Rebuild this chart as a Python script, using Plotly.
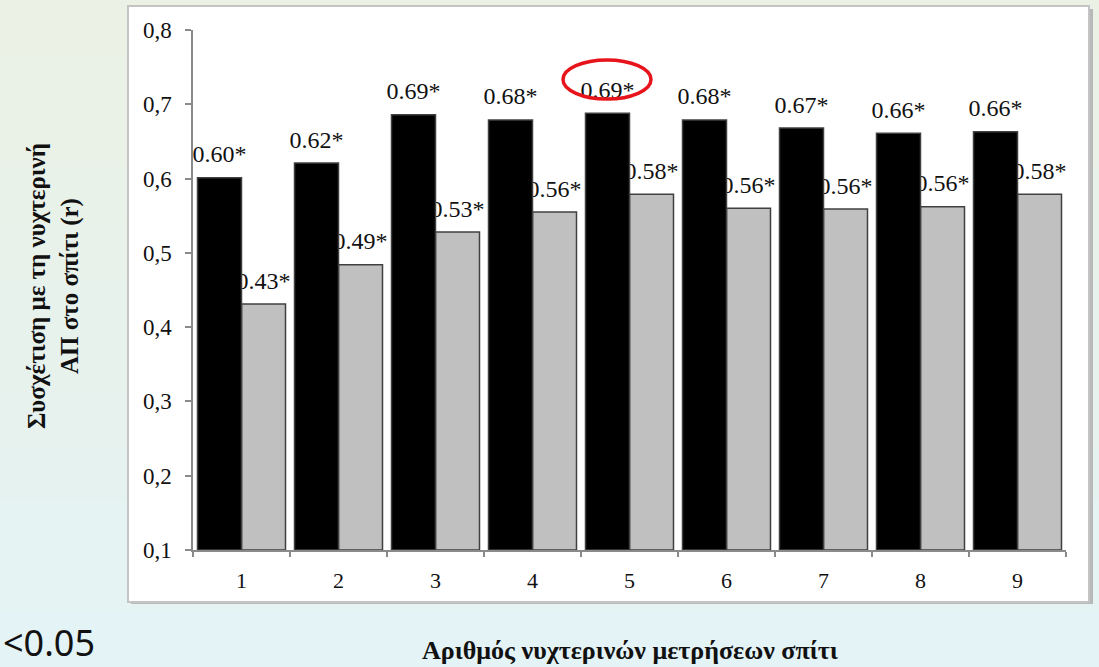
import plotly.graph_objects as go

categories = ["1", "2", "3", "4", "5", "6", "7", "8", "9"]
black_values = [0.601, 0.621, 0.686, 0.679, 0.688, 0.679, 0.668, 0.661, 0.663]
gray_values = [0.431, 0.484, 0.528, 0.555, 0.579, 0.560, 0.559, 0.562, 0.579]
black_labels = ["0.60*", "0.62*", "0.69*", "0.68*", "0.69*", "0.68*", "0.67*", "0.66*", "0.66*"]
gray_labels = ["0.43*", "0.49*", "0.53*", "0.56*", "0.58*", "0.56*", "0.56*", "0.56*", "0.58*"]
y_ticks = [0.1, 0.2, 0.3, 0.4, 0.5, 0.6, 0.7, 0.8]

SERIF = "Liberation Serif, Times New Roman, serif"
W, H = 1099, 667
L, R, T, B = 193, 33, 30, 117
pw, ph = W - L - R, H - T - B


def px(x):
    return (x - L) / pw


def py(y):
    return (H - B - y) / ph


bw = 0.4536
label_pad = 0.01  # extra gap between bar top and its value label (axis units)
label_font = dict(family=SERIF, size=24, color="#111")


def bars(values, color, offset):
    return go.Bar(
        x=categories, y=[v - 0.1 for v in values], base=0.1,
        width=bw, offset=offset,
        marker=dict(color=color, line=dict(color="#404040", width=1.5)),
        showlegend=False, hoverinfo="skip",
    )


def label_carrier(values, labels, offset):
    # invisible thin bar on top of each bar, used only to carry the value label
    return go.Bar(
        x=categories, y=[label_pad] * len(values), base=values,
        width=bw, offset=offset,
        marker=dict(color="rgba(0,0,0,0)", line=dict(width=0)),
        text=labels, textposition="outside", cliponaxis=False,
        textfont=label_font, constraintext="none",
        showlegend=False, hoverinfo="skip",
    )


fig = go.Figure()
# gray series first so the black bars (drawn later) overlap the gray labels
fig.add_trace(bars(gray_values, "#c0c0c0", 0))
fig.add_trace(label_carrier(gray_values, gray_labels, 0))
fig.add_trace(bars(black_values, "#000000", -bw))
fig.add_trace(label_carrier(black_values, black_labels, -bw))

shapes = []
# background gradient bands (green-tinted top to blue-tinted bottom)
n = 12
top_c = (235, 241, 228)
bot_c = (228, 243, 245)
for i in range(n):
    t = i / (n - 1)
    c = tuple(round(top_c[k] + (bot_c[k] - top_c[k]) * t) for k in range(3))
    y0p = i * H / n
    y1p = (i + 1) * H / n + 1
    shapes.append(dict(type="rect", xref="paper", yref="paper", layer="below",
                       x0=px(0), x1=px(W), y0=py(y1p), y1=py(y0p),
                       line=dict(width=0), fillcolor="rgb(%d,%d,%d)" % c))
# panel shadow
shapes.append(dict(type="rect", xref="paper", yref="paper", layer="below",
                   x0=px(131), x1=px(1093), y0=py(604), y1=py(9),
                   line=dict(width=0), fillcolor="#b8b8b8"))
# white panel
shapes.append(dict(type="rect", xref="paper", yref="paper", layer="below",
                   x0=px(128), x1=px(1089), y0=py(602), y1=py(6),
                   line=dict(color="#c4c4c4", width=2), fillcolor="#ffffff"))
# red highlight ellipse around the label of category 5
shapes.append(dict(type="circle", xref="paper", yref="paper", layer="above",
                   x0=px(563), x1=px(651), y0=py(99), y1=py(60),
                   line=dict(color="#e8141c", width=3.5), fillcolor="rgba(0,0,0,0)"))

annotations = [
    dict(text="<b>Αριθμός νυχτερινών μετρήσεων σπίτι</b>", xref="paper", yref="paper",
         x=px(630), y=py(650), xanchor="center", yanchor="middle", showarrow=False,
         font=dict(family=SERIF, size=26, color="#111")),
    dict(text="<b>Συσχέτιση με τη νυχτερινή<br>ΑΠ στο σπίτι (r)</b>", xref="paper", yref="paper",
         x=px(53), y=py(286), xanchor="center", yanchor="middle", showarrow=False,
         textangle=-90, font=dict(family=SERIF, size=25, color="#111")),
    dict(text="<0.05", xref="paper", yref="paper",
         x=px(1), y=py(642), xanchor="left", yanchor="middle", showarrow=False,
         font=dict(family="Noto Sans, sans-serif", size=36, color="#111")),
]

fig.update_layout(
    width=W, height=H,
    margin=dict(l=L, r=R, t=T, b=B, autoexpand=False),
    barmode="overlay",
    paper_bgcolor="#e7f2ee",
    plot_bgcolor="rgba(0,0,0,0)",
    separators=",.",
    shapes=shapes,
    annotations=annotations,
    showlegend=False,
    xaxis=dict(
        type="category", range=[-0.5, 8.5], showgrid=False, zeroline=False,
        showline=True, linecolor="#8a8a8a", linewidth=1.5,
        ticks="outside", tickson="boundaries", ticklen=5, tickcolor="#8a8a8a", tickwidth=1.5,
        tickfont=dict(family=SERIF, size=22, color="#111"),
        ticklabelstandoff=10,
    ),
    yaxis=dict(
        range=[0.1, 0.8], tickvals=y_ticks, tickformat=".1f", showgrid=False, zeroline=False,
        showline=True, linecolor="#8a8a8a", linewidth=1.5,
        ticks="outside", ticklen=6, tickcolor="#8a8a8a", tickwidth=1.5,
        tickfont=dict(family=SERIF, size=23, color="#111"),
        ticklabelstandoff=9,
    ),
)

fig.write_html(
    "out.html",
    config={"displayModeBar": False},
    post_script="document.body.style.margin='0';document.body.style.overflow='hidden';",
)
